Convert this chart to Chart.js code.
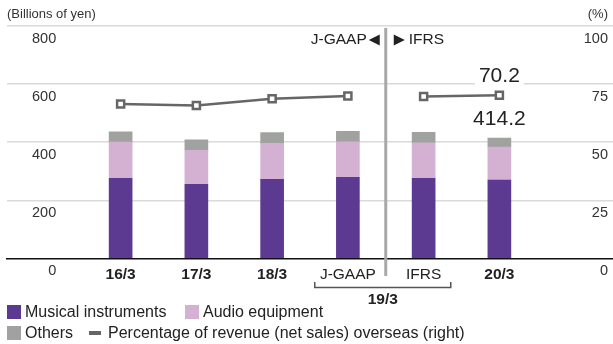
<!DOCTYPE html>
<html>
<head>
<meta charset="utf-8">
<script src="https://cdn.jsdelivr.net/npm/chart.js@4"></script>
<style>
  html, body { margin: 0; padding: 0; background: #fff; }
  canvas { display: block; }
</style>
</head>
<body>
<canvas id="chart" width="613" height="344"></canvas>
<script>
// Fiscal periods (19/3 shown under both accounting standards)
const periods = ['16/3', '17/3', '18/3', 'J-GAAP', 'IFRS', '20/3'];
const boldPeriods = ['16/3', '17/3', '18/3', '20/3'];

// Revenue by segment, billions of yen
const musicalInstruments = [276.0, 255.3, 272.0, 279.3, 275.7, 270.0];
const audioEquipment     = [124.0, 116.9, 124.5, 122.4, 122.5, 113.5];
const others             = [35.5, 36.0, 36.4, 35.7, 36.2, 30.7];

// Percentage of revenue overseas, %
const overseasShare = [66.4, 65.8, 68.7, 69.9, 69.7, 70.2];

// Axis ticks
const yenTicks = [0, 200, 400, 600, 800];
const pctTicks = [0, 25, 50, 75, 100];

const FONT = '"Liberation Sans", Arial, Helvetica, sans-serif';
const COLORS = {
  musical: '#5c3a91',
  audio: '#d4b0d2',
  others: '#a0a2a0',
  line: '#666666'
};

// one empty slot on each side of the periods
const pad = arr => [null, ...arr, null];
const labels = ['', ...periods, ''];

// value axes sit inside the plot, so they take no room of their own
const flatAxis = s => {
  s.width = 0;
  s.paddingTop = 0;
  s.paddingBottom = 0;
  s.paddingLeft = 0;
  s.paddingRight = 0;
};

const overlay = {
  id: 'overlay',
  afterDraw(chart) {
    const { ctx, chartArea, scales } = chart;
    const x = scales.x, y = scales.y;
    const jIdx = labels.indexOf('J-GAAP'), iIdx = labels.indexOf('IFRS');
    const split = (x.getPixelForValue(jIdx) + x.getPixelForValue(iIdx)) / 2;
    ctx.save();

    // unit captions
    ctx.fillStyle = '#333';
    ctx.font = '13px ' + FONT;
    ctx.textBaseline = 'middle';
    ctx.textAlign = 'left';
    ctx.fillText('(Billions of yen)', 7, 14);
    ctx.textAlign = 'right';
    ctx.fillText('(%)', 608, 14);

    // accounting standard divider
    ctx.strokeStyle = '#a8a8a8';
    ctx.lineWidth = 3;
    ctx.beginPath();
    ctx.moveTo(split, chartArea.top + 2);
    ctx.lineTo(split, 276);
    ctx.stroke();

    // J-GAAP ◀ | ▶ IFRS
    ctx.fillStyle = '#222';
    ctx.font = '15.5px ' + FONT;
    ctx.textAlign = 'right';
    ctx.fillText('J-GAAP', split - 19, 40);
    ctx.textAlign = 'left';
    ctx.fillText('IFRS', split + 23, 40);
    ctx.beginPath();
    ctx.moveTo(split - 6, 34.5); ctx.lineTo(split - 6, 45.5); ctx.lineTo(split - 17, 40); ctx.closePath();
    ctx.fill();
    ctx.beginPath();
    ctx.moveTo(split + 8, 34.5); ctx.lineTo(split + 8, 45.5); ctx.lineTo(split + 19, 40); ctx.closePath();
    ctx.fill();

    // 19/3 bracket
    const bl = split - 71, br = split + 65, by = 287.5;
    ctx.strokeStyle = '#555';
    ctx.lineWidth = 1.5;
    ctx.beginPath();
    ctx.moveTo(bl, 282); ctx.lineTo(bl, by); ctx.lineTo(br, by); ctx.lineTo(br, 282);
    ctx.stroke();
    ctx.fillStyle = '#222';
    ctx.font = 'bold 15.5px ' + FONT;
    ctx.textAlign = 'center';
    ctx.fillText('19/3', (bl + br) / 2, 300);

    // value labels for the latest period
    const last = periods.length - 1;
    const lastIdx = labels.indexOf(periods[last]);
    const total = musicalInstruments[last] + audioEquipment[last] + others[last];
    const lineMeta = chart.getDatasetMeta(3);
    const pt = lineMeta.data[lastIdx];
    ctx.font = '21px ' + FONT;
    const pctText = overseasShare[last].toFixed(1);
    const tw = ctx.measureText(pctText).width;
    ctx.fillStyle = '#fff';
    ctx.fillRect(pt.x - tw / 2 - 4, pt.y - 31, tw + 8, 24);
    ctx.fillStyle = '#222';
    ctx.fillText(pctText, pt.x, pt.y - 19);
    const barX = x.getPixelForValue(lastIdx);
    ctx.fillText(total.toFixed(1), barX, y.getPixelForValue(total) - 19);

    // legend
    ctx.font = '16px ' + FONT;
    ctx.textAlign = 'left';
    const items = [
      { color: COLORS.musical, text: 'Musical instruments', bx: 7, by: 312 },
      { color: COLORS.audio, text: 'Audio equipment', bx: 185, by: 312 },
      { color: COLORS.others, text: 'Others', bx: 7, by: 333 }
    ];
    items.forEach(it => {
      ctx.fillStyle = it.color;
      ctx.fillRect(it.bx, it.by - 7, 14, 14);
      ctx.fillStyle = '#222';
      ctx.fillText(it.text, it.bx + 18, it.by + 1);
    });
    ctx.fillStyle = COLORS.line;
    ctx.fillRect(89, 331, 12, 4);
    ctx.fillStyle = '#222';
    ctx.fillText('Percentage of revenue (net sales) overseas (right)', 108, 334);

    ctx.restore();
  }
};

const barCommon = { stack: 'rev', barThickness: 23, order: 1, yAxisID: 'y' };

new Chart(document.getElementById('chart'), {
  type: 'bar',
  data: {
    labels,
    datasets: [
      { label: 'Musical instruments', data: pad(musicalInstruments), backgroundColor: COLORS.musical, ...barCommon },
      { label: 'Audio equipment', data: pad(audioEquipment), backgroundColor: COLORS.audio, ...barCommon },
      { label: 'Others', data: pad(others), backgroundColor: COLORS.others, ...barCommon },
      {
        type: 'line',
        label: 'Percentage of revenue (net sales) overseas (right)',
        data: pad(overseasShare),
        yAxisID: 'y2',
        order: 0,
        borderColor: COLORS.line,
        borderWidth: 2.5,
        pointStyle: 'rect',
        pointRadius: 5,
        pointBorderWidth: 2.5,
        pointBackgroundColor: '#fff',
        pointBorderColor: COLORS.line,
        spanGaps: false,
        segment: {
          // no connection across the change of accounting standard
          borderColor: c => labels[c.p0DataIndex] === 'J-GAAP' ? 'rgba(0,0,0,0)' : undefined
        }
      }
    ]
  },
  options: {
    responsive: false,
    animation: false,
    layout: { autoPadding: false, padding: { left: 7, right: 0, top: 26, bottom: 53 } },
    plugins: { legend: { display: false }, tooltip: { enabled: false } },
    scales: {
      x: {
        stacked: true,
        afterFit: s => { s.paddingLeft = 0; s.paddingRight = 0; },
        grid: { display: true, drawOnChartArea: false, drawTicks: false },
        border: { display: true, color: '#111', width: 1.5 },
        ticks: {
          padding: 7,
          color: '#222',
          font: c => ({
            family: FONT,
            size: 15.5,
            weight: boldPeriods.includes(labels[c.index]) ? 'bold' : 'normal'
          })
        }
      },
      y: {
        position: 'left',
        stacked: true,
        min: yenTicks[0],
        max: yenTicks[yenTicks.length - 1],
        afterBuildTicks: s => { s.ticks = yenTicks.map(v => ({ value: v })); },
        afterFit: flatAxis,
        grid: {
          drawTicks: false,
          color: c => c.tick && c.tick.value === 0 ? 'rgba(0,0,0,0)' : '#dadada',
          lineWidth: 1.5
        },
        border: { display: false },
        ticks: {
          mirror: true,
          crossAlign: 'far',
          padding: 25,
          labelOffset: 12.5,
          color: '#333',
          font: { family: FONT, size: 14.5 }
        }
      },
      y2: {
        position: 'right',
        min: pctTicks[0],
        max: pctTicks[pctTicks.length - 1],
        afterBuildTicks: s => { s.ticks = pctTicks.map(v => ({ value: v })); },
        afterFit: flatAxis,
        grid: { display: false, drawTicks: false },
        border: { display: false },
        ticks: {
          mirror: true,
          crossAlign: 'near',
          padding: -5,
          labelOffset: 12.5,
          color: '#333',
          font: { family: FONT, size: 14.5 }
        }
      }
    }
  },
  plugins: [overlay]
});
</script>
</body>
</html>
